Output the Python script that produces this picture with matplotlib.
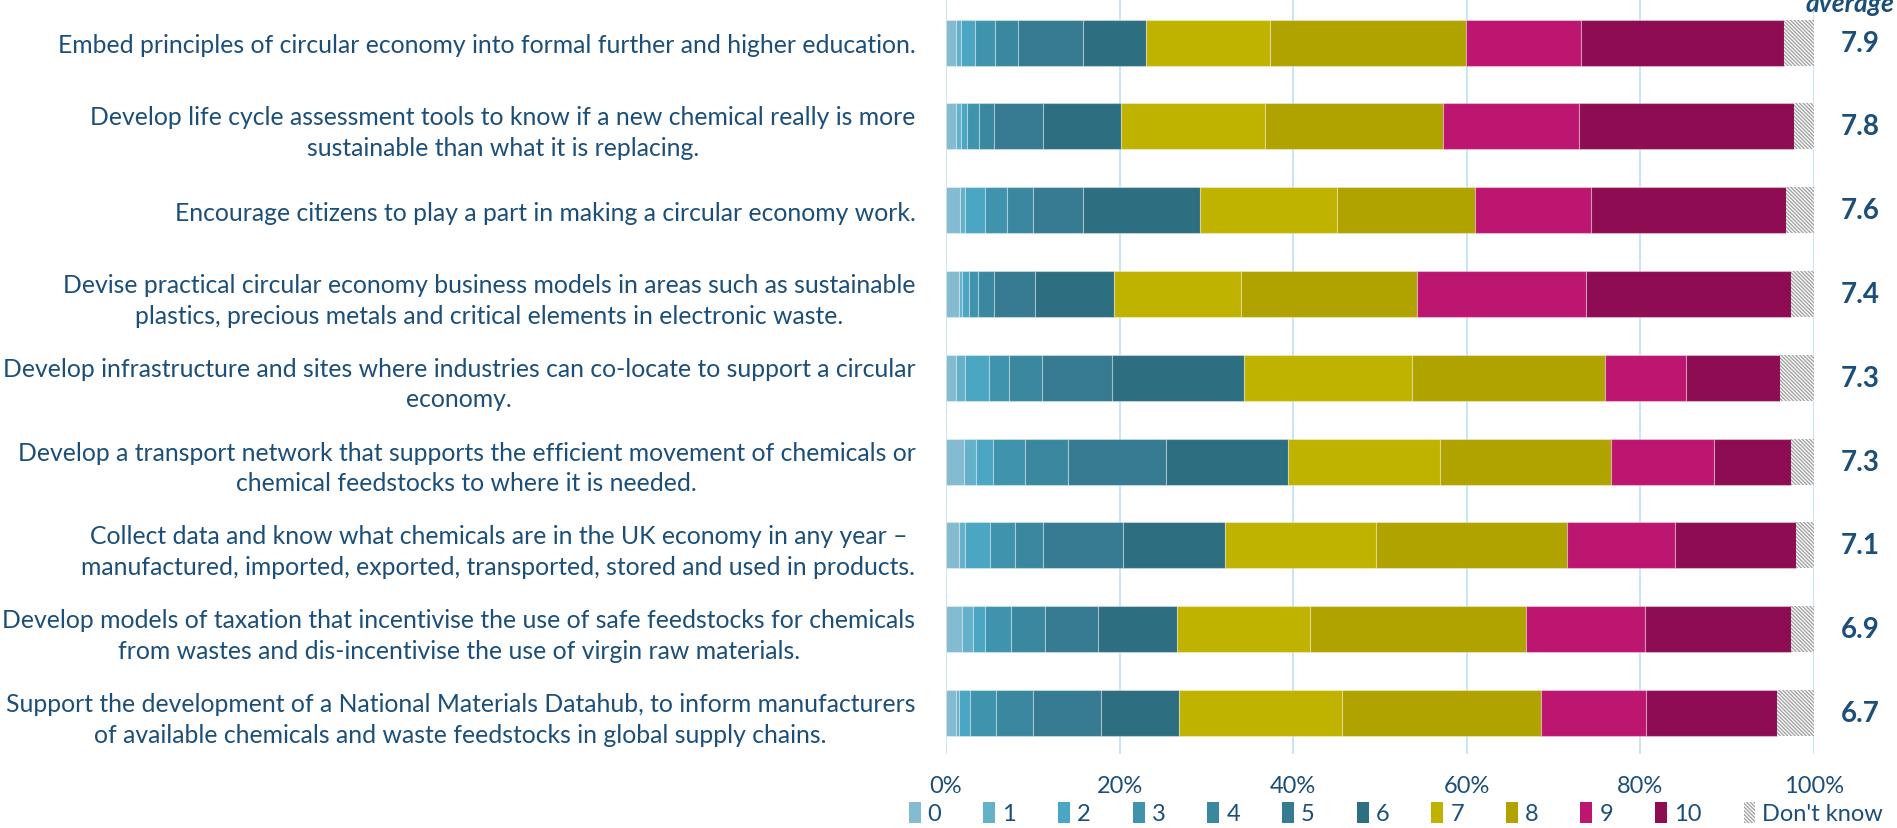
import matplotlib
matplotlib.use("Agg")
import matplotlib.pyplot as plt
from matplotlib.patches import Patch
import numpy as np

plt.rcParams['font.family'] = ['Lato', 'DejaVu Sans']
plt.rcParams['hatch.linewidth'] = 1.0

labels = [
    "Embed principles of circular economy into formal further and higher education.",
    "Develop life cycle assessment tools to know if a new chemical really is more\nsustainable than what it is replacing.",
    "Encourage citizens to play a part in making a circular economy work.",
    "Devise practical circular economy business models in areas such as sustainable\nplastics, precious metals and critical elements in electronic waste.",
    "Develop infrastructure and sites where industries can co-locate to support a circular\neconomy.",
    "Develop a transport network that supports the efficient movement of chemicals or\nchemical feedstocks to where it is needed.",
    "Collect data and know what chemicals are in the UK economy in any year \u2013\nmanufactured, imported, exported, transported, stored and used in products.",
    "Develop models of taxation that incentivise the use of safe feedstocks for chemicals\nfrom wastes and dis-incentivise the use of virgin raw materials.",
    "Support the development of a National Materials Datahub, to inform manufacturers\nof available chemicals and waste feedstocks in global supply chains.",
]
averages = ["7.9", "7.8", "7.6", "7.4", "7.3", "7.3", "7.1", "6.9", "6.7"]

series_names = ["0", "1", "2", "3", "4", "5", "6", "7", "8", "9", "10", "Don't know"]
s0 = [1.1, 1.1, 1.6, 1.45, 1.1, 2.1, 1.45, 1.9, 1.1]
s1 = [0.6, 0.6, 0.55, 0.35, 1.05, 1.4, 0.7, 1.25, 0.4]
s2 = [1.6, 0.7, 2.4, 0.9, 2.85, 1.9, 2.9, 1.35, 1.3]
s3 = [2.3, 1.4, 2.5, 1.0, 2.25, 3.7, 2.95, 3.0, 2.95]
s4 = [2.7, 1.7, 2.95, 1.85, 3.85, 4.9, 3.2, 3.9, 4.25]
s5 = [7.5, 5.7, 5.8, 4.65, 8.0, 11.3, 9.2, 6.1, 7.8]
s6 = [7.2, 9.0, 13.5, 9.2, 15.2, 14.1, 11.8, 9.1, 9.0]
s7 = [14.3, 16.5, 15.7, 14.6, 19.4, 17.5, 17.3, 15.3, 18.8]
s8 = [22.6, 20.6, 16.0, 20.3, 22.2, 19.7, 22.1, 24.9, 22.9]
s9 = [13.3, 15.6, 13.3, 19.4, 9.3, 11.9, 12.4, 13.7, 12.1]
s10 = [23.3, 24.8, 22.5, 23.7, 10.9, 8.8, 13.9, 16.8, 15.1]
dont_know = [3.5, 2.3, 3.2, 2.6, 3.9, 2.7, 2.1, 2.7, 4.3]
series = [s0, s1, s2, s3, s4, s5, s6, s7, s8, s9, s10, dont_know]

colors = ['#84bbd0', '#64b1ca', '#4aa6c3', '#3f93ad', '#3a88a0', '#367b91',
          '#2d6f81', '#c0b300', '#b0a300', '#bd1670', '#8e0c52', 'white']
text_col = '#1b4f7a'
grid_col = '#c9e6f7'
hatch_col = '#a4a4a4'

W, H = 1897, 829
fig = plt.figure(figsize=(W / 100, H / 100), dpi=100)
ax = fig.add_axes([946 / W, 1 - 755 / H, (1814 - 946) / W, 755 / H])

y = np.arange(len(labels))
left = np.zeros(len(labels))
handles = []
for name, vals, c in zip(series_names, series, colors):
    vals = np.array(vals)
    if name == "Don't know":
        ax.barh(y, vals, left=left, height=0.55, color='white',
                edgecolor=hatch_col, linewidth=0, hatch='\\' * 9, zorder=3)
        handles.append(Patch(facecolor='white', edgecolor=hatch_col,
                             hatch='\\' * 9, linewidth=0, label=name))
    else:
        ax.barh(y, vals, left=left, height=0.55, color=c,
                edgecolor=(1, 1, 1, 0.35), linewidth=0.8, zorder=3)
        handles.append(Patch(facecolor=c, edgecolor='none', label=name))
    left += vals

ax.set_xlim(0, 100)
ax.set_ylim(8.49, -0.52)
ax.set_xticks(np.arange(0, 101, 20))
ax.set_xticklabels([f"{v}%" for v in range(0, 101, 20)])
ax.xaxis.grid(True, color=grid_col, linewidth=1.5, zorder=0)
ax.set_axisbelow(True)
for sp in ax.spines.values():
    sp.set_visible(False)
ax.tick_params(axis='x', length=0, pad=15, labelsize=17, labelcolor=text_col)
ax.set_yticks(y)
ax.set_yticklabels(labels)
ax.tick_params(axis='y', length=0, pad=22, labelsize=17.8, labelcolor=text_col)
for t in ax.get_yticklabels():
    t.set_multialignment('center')
    t.set_linespacing(1.4)

for i, a in enumerate(averages):
    ax.text(105.3, i, a, ha='center', va='center', fontsize=20,
            fontweight='bold', color=text_col, clip_on=False)

fig.text(1850 / W, 1 - 12 / H, "average", ha='center', va='baseline',
         fontsize=19, fontweight='bold', style='italic', color=text_col)

fig.legend(handles=handles, loc='center', ncol=12,
           bbox_to_anchor=(1396 / W, 1 - 814 / H), frameon=False,
           fontsize=17, handlelength=0.5, handleheight=1.0,
           handletextpad=0.3, columnspacing=1.78, labelcolor=text_col,
           borderaxespad=0)

fig.savefig("out.png", dpi=100)
